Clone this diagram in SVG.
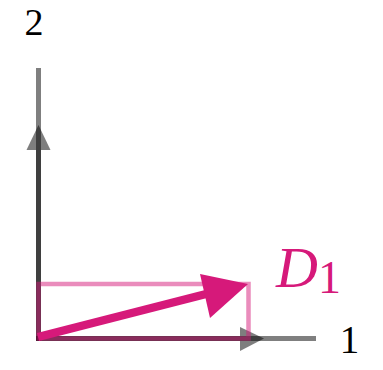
<svg xmlns="http://www.w3.org/2000/svg" width="383" height="370" viewBox="0 0 383 370">
<style>
.lbl{font-family:"Liberation Serif",serif;fill:#000}
.gray{stroke:#000;stroke-opacity:0.5;fill:none;stroke-width:5}
</style>
<rect width="383" height="370" fill="#fff"/>
<g id="axes">
<line class="gray" x1="38.5" y1="68" x2="38.5" y2="340"/>
<line class="gray" x1="36" y1="338.5" x2="316" y2="338.5"/>
</g>
<g id="connectors">
<g id="e2" opacity="0.5">
<line x1="38.5" y1="341" x2="38.5" y2="145" stroke="#000" stroke-width="5"/>
<polygon points="38.5,125 26.5,150 50.5,150" fill="#000"/>
</g>
<g id="e1" opacity="0.5">
<line x1="36" y1="338.5" x2="245" y2="338.5" stroke="#000" stroke-width="5"/>
<polygon points="264,338.5 240,327 240,351" fill="#000"/>
</g>
<rect id="box" x="38.5" y="284" width="210" height="54.5" fill="none" stroke="#d6197a" stroke-opacity="0.5" stroke-width="4.5"/>
<g id="D1vec">
<line x1="38" y1="337" x2="210" y2="293" stroke="#d6197a" stroke-width="8"/>
<polygon points="248,284 200,274 210,318" fill="#d6197a"/>
</g>
</g>
<g id="label2"><text class="lbl" x="34" y="35" font-size="38" text-anchor="middle">2</text></g>
<g id="label1"><text class="lbl" x="349.5" y="353" font-size="39" text-anchor="middle">1</text></g>
<g id="labelD1"><text x="276" y="287" font-family="Liberation Serif,serif" font-style="italic" font-size="58" fill="#d6197a">D<tspan font-style="normal" font-size="46" dy="6">1</tspan></text></g>
</svg>
